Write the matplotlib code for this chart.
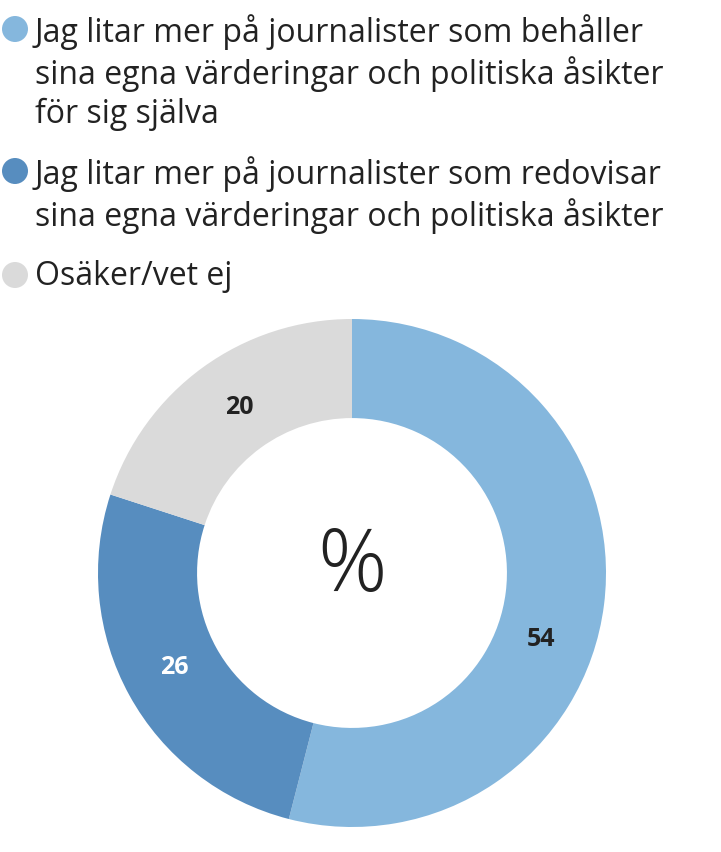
import numpy as np
import matplotlib
matplotlib.use("Agg")
import matplotlib.pyplot as plt
from matplotlib.patches import Ellipse

labels = ["Jag litar mer på journalister som behåller\nsina egna värderingar och politiska åsikter\nför sig själva",
          "Jag litar mer på journalister som redovisar\nsina egna värderingar och politiska åsikter",
          "Osäker/vet ej"]
values = [54, 26, 20]
colors = ["#85b7dd", "#578dbf", "#dadada"]
value_colors = ["#222222", "white", "#222222"]

plt.rcParams['font.family'] = ['Open Sans', 'DejaVu Sans']

W, H = 721, 853
fig = plt.figure(figsize=(W / 100, H / 100), dpi=100)

def fx(x):
    return x / W

def fy(y):
    return 1 - y / H

# legend
leg_y = [30, 172, 276]
for lab, col, y in zip(labels, colors, leg_y):
    fig.patches.append(Ellipse((fx(15), fy(y)), 26 / W, 26 / H, transform=fig.transFigure,
                               facecolor=col, edgecolor='none'))
    fig.text(fx(35), fy(y - 16), lab, fontsize=23, color='#222222', va='top',
             ha='left', linespacing=1.22)

# donut
ax = fig.add_axes([fx(98), fy(828), 508 / W, 508 / H])
wedges, _ = ax.pie(values, colors=colors, startangle=90, counterclock=False,
                   wedgeprops=dict(width=0.39, edgecolor='none'))
ax.set_xlim(-1, 1)
ax.set_ylim(-1, 1)
ax.set_aspect('equal')

offsets = [-12, -1, -2]
for w, v, c, off in zip(wedges, values, value_colors, offsets):
    ang = np.deg2rad((w.theta1 + w.theta2) / 2 + off)
    ax.text(0.79 * np.cos(ang), 0.79 * np.sin(ang), str(v), ha='center', va='center',
            fontsize=18, fontweight='bold', color=c)

ax.text(0, 0.02, "%", ha='center', va='center', fontsize=62, fontweight='light', color='#222222')

fig.savefig("out.png", dpi=100)
